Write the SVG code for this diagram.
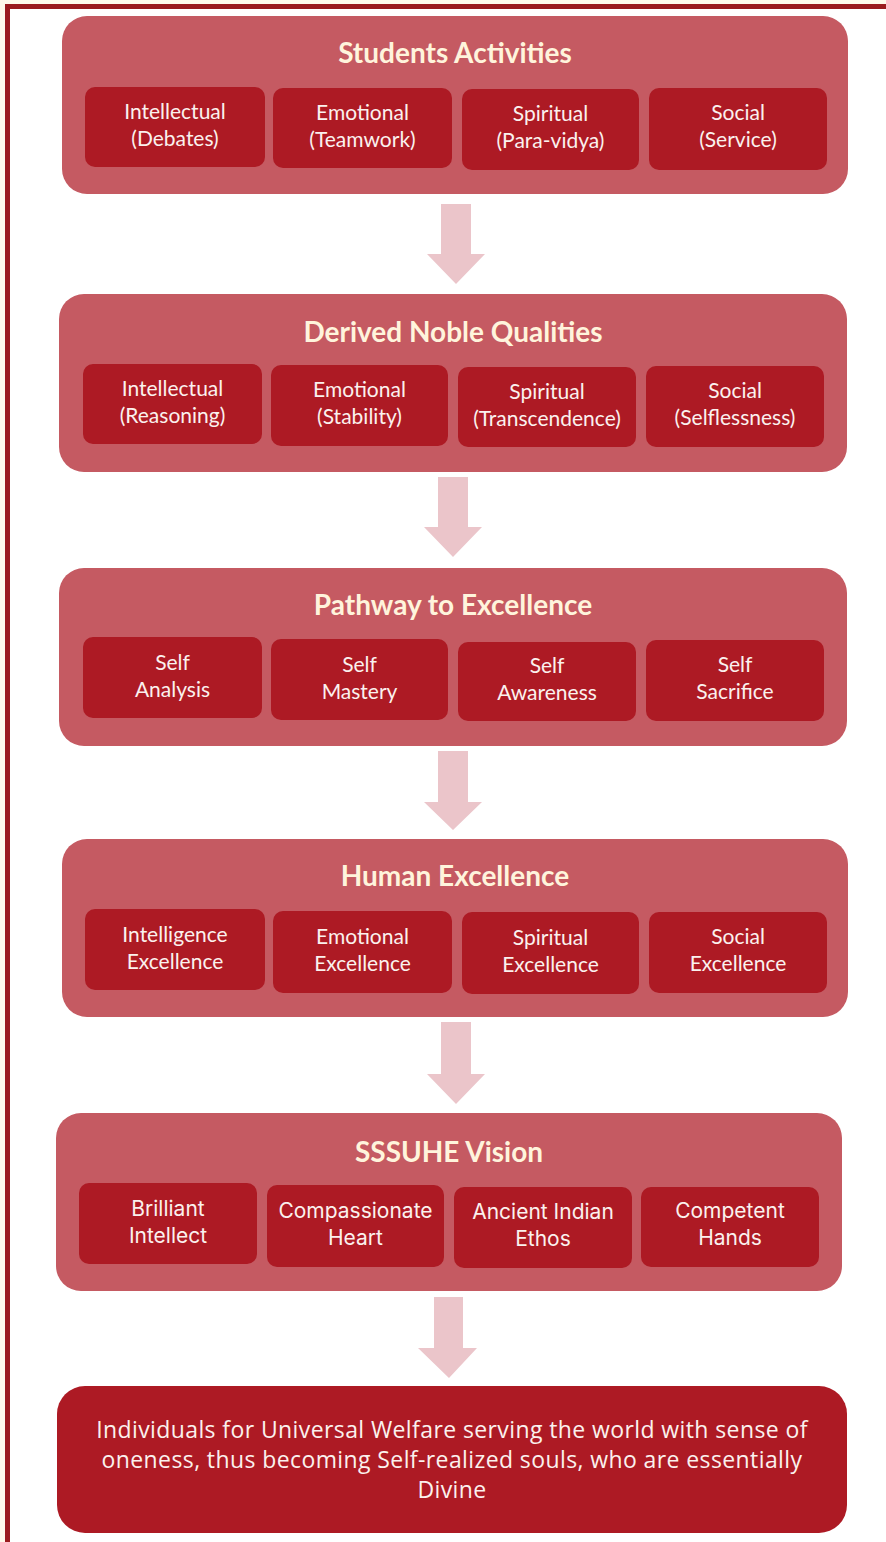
<svg xmlns="http://www.w3.org/2000/svg" width="886" height="1542" viewBox="0 0 886 1542">
<style>
.outer{fill:#c55a62}
.inner{fill:#ad1a24}
.arrow{fill:#ebc5ca}
.title{font-family:Lato,"Open Sans",sans-serif;font-weight:700;font-size:28px;fill:#fff4dc;text-anchor:middle}
.t{font-family:Lato,"Open Sans",sans-serif;font-size:21px;fill:#fbf1ee;text-anchor:middle}
.t5{font-family:Inter,Roboto,sans-serif;font-size:21px;fill:#fbf1ee;text-anchor:middle}
.tb{font-family:"Open Sans","Liberation Sans",sans-serif;font-size:23px;letter-spacing:0.4px;fill:#fbf1ee;text-anchor:middle}
</style>
<rect x="0" y="0" width="886" height="1542" fill="#fffaeb"/>
<rect x="10" y="9" width="876" height="1533" fill="#ffffff"/>
<rect x="5" y="4" width="881" height="5" fill="#9b1b1e"/>
<rect x="5" y="4" width="5" height="1538" fill="#9b1b1e"/>

<g id="connectors">
<polygon class="arrow" points="441,204 471,204 471,254 485,254 456,284 427,254 441,254"/>
<polygon class="arrow" points="438,477 468,477 468,527 482,527 453,557 424,527 438,527"/>
<polygon class="arrow" points="438,751 468,751 468,802 482,802 453,830 424,802 438,802"/>
<polygon class="arrow" points="441,1022 471,1022 471,1074 485,1074 456,1104 427,1074 441,1074"/>
<polygon class="arrow" points="434,1297 463,1297 463,1348 477,1348 449,1378 418,1348 434,1348"/>
</g>

<g id="students-activities">
<rect class="outer" x="62" y="16" width="786" height="178" rx="25"/>
<text class="title" x="455" y="63">Students Activities</text>
<g id="sa-intellectual"><rect class="inner" x="85" y="87" width="180" height="80" rx="10"/><text class="t" x="175" y="119">Intellectual</text><text class="t" x="175" y="146">(Debates)</text></g>
<g id="sa-emotional"><rect class="inner" x="273" y="88" width="179" height="80" rx="10"/><text class="t" x="362.5" y="120">Emotional</text><text class="t" x="362.5" y="147">(Teamwork)</text></g>
<g id="sa-spiritual"><rect class="inner" x="462" y="89" width="177" height="81" rx="10"/><text class="t" x="550.5" y="121">Spiritual</text><text class="t" x="550.5" y="148">(Para-vidya)</text></g>
<g id="sa-social"><rect class="inner" x="649" y="88" width="178" height="82" rx="10"/><text class="t" x="738" y="120">Social</text><text class="t" x="738" y="147">(Service)</text></g>
</g>

<g id="derived-noble-qualities">
<rect class="outer" x="59" y="294" width="788" height="178" rx="25"/>
<text class="title" x="453" y="342">Derived Noble Qualities</text>
<g id="dq-intellectual"><rect class="inner" x="83" y="364" width="179" height="80" rx="10"/><text class="t" x="172.5" y="396">Intellectual</text><text class="t" x="172.5" y="423">(Reasoning)</text></g>
<g id="dq-emotional"><rect class="inner" x="271" y="365" width="177" height="81" rx="10"/><text class="t" x="359.5" y="397">Emotional</text><text class="t" x="359.5" y="424">(Stability)</text></g>
<g id="dq-spiritual"><rect class="inner" x="458" y="367" width="178" height="80" rx="10"/><text class="t" x="547" y="399">Spiritual</text><text class="t" x="547" y="426">(Transcendence)</text></g>
<g id="dq-social"><rect class="inner" x="646" y="366" width="178" height="81" rx="10"/><text class="t" x="735" y="398">Social</text><text class="t" x="735" y="425">(Selflessness)</text></g>
</g>

<g id="pathway-to-excellence">
<rect class="outer" x="59" y="568" width="788" height="178" rx="25"/>
<text class="title" x="453" y="615">Pathway to Excellence</text>
<g id="pe-analysis"><rect class="inner" x="83" y="637" width="179" height="81" rx="10"/><text class="t" x="172.5" y="670">Self</text><text class="t" x="172.5" y="697">Analysis</text></g>
<g id="pe-mastery"><rect class="inner" x="271" y="639" width="177" height="81" rx="10"/><text class="t" x="359.5" y="672">Self</text><text class="t" x="359.5" y="699">Mastery</text></g>
<g id="pe-awareness"><rect class="inner" x="458" y="642" width="178" height="79" rx="10"/><text class="t" x="547" y="673">Self</text><text class="t" x="547" y="700">Awareness</text></g>
<g id="pe-sacrifice"><rect class="inner" x="646" y="640" width="178" height="81" rx="10"/><text class="t" x="735" y="672">Self</text><text class="t" x="735" y="699">Sacrifice</text></g>
</g>

<g id="human-excellence">
<rect class="outer" x="62" y="839" width="786" height="178" rx="25"/>
<text class="title" x="455" y="886">Human Excellence</text>
<g id="he-intelligence"><rect class="inner" x="85" y="909" width="180" height="81" rx="10"/><text class="t" x="175" y="942">Intelligence</text><text class="t" x="175" y="969">Excellence</text></g>
<g id="he-emotional"><rect class="inner" x="273" y="911" width="179" height="82" rx="10"/><text class="t" x="362.5" y="944">Emotional</text><text class="t" x="362.5" y="971">Excellence</text></g>
<g id="he-spiritual"><rect class="inner" x="462" y="912" width="177" height="82" rx="10"/><text class="t" x="550.5" y="945">Spiritual</text><text class="t" x="550.5" y="972">Excellence</text></g>
<g id="he-social"><rect class="inner" x="649" y="912" width="178" height="81" rx="10"/><text class="t" x="738" y="944">Social</text><text class="t" x="738" y="971">Excellence</text></g>
</g>

<g id="sssuhe-vision">
<rect class="outer" x="56" y="1113" width="786" height="178" rx="25"/>
<text class="title" x="449" y="1162">SSSUHE Vision</text>
<g id="sv-intellect"><rect class="inner" x="79" y="1183" width="178" height="81" rx="10"/><text class="t5" x="168" y="1216">Brilliant</text><text class="t5" x="168" y="1243">Intellect</text></g>
<g id="sv-heart"><rect class="inner" x="267" y="1185" width="177" height="82" rx="10"/><text class="t5" x="355.5" y="1218">Compassionate</text><text class="t5" x="355.5" y="1245">Heart</text></g>
<g id="sv-ethos"><rect class="inner" x="454" y="1187" width="178" height="81" rx="10"/><text class="t5" x="543" y="1219">Ancient Indian</text><text class="t5" x="543" y="1246">Ethos</text></g>
<g id="sv-hands"><rect class="inner" x="641" y="1187" width="178" height="80" rx="10"/><text class="t5" x="730" y="1218">Competent</text><text class="t5" x="730" y="1245">Hands</text></g>
</g>

<g id="universal-welfare">
<rect class="inner" x="57" y="1386" width="790" height="147" rx="28"/>
<text class="tb" x="452" y="1438">Individuals for Universal Welfare serving the world with sense of</text>
<text class="tb" x="452" y="1468">oneness, thus becoming Self-realized souls, who are essentially</text>
<text class="tb" x="452" y="1498">Divine</text>
</g>
</svg>
